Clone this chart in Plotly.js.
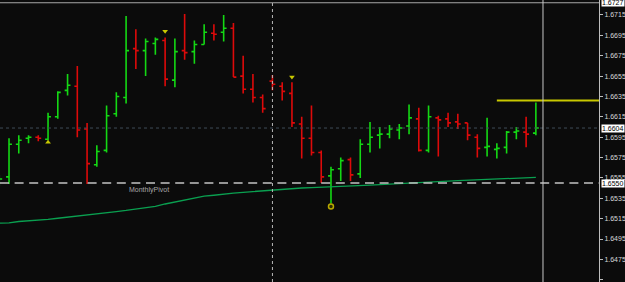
<!DOCTYPE html>
<html><head><meta charset="utf-8">
<script src="https://cdn.plot.ly/plotly-3.0.1.min.js"></script>
<style>html,body{margin:0;padding:0;background:#0b0b0b;overflow:hidden}#chart{width:625px;height:282px;}</style>
</head><body><div id="chart"></div>
<script>
// bar positions (bar number from the left edge of the chart)
const barIndex = [-1,0,1,2,3,4,5,6,7,8,9,10,11,12,13,14,15,16,17,18,19,20,21,22,23,24,25,26,27,28,29,30,31,32,33,34,35,36,37,38,39,40,41,42,43,44,45,46,47,48,49,50,51,52,53,54];
const openP  = [1.6552,1.6556,1.6588,1.6594,1.6595,1.6593,1.6615,1.6641,1.6645,1.6603,1.6568,1.6582,1.6618,1.6634,1.6682,1.6680,1.6687,1.6690,1.6651,1.6680,1.6679,1.6686,1.6697,1.6698,1.6702,1.6655,1.6642,1.6634,1.6650,1.6645,1.6638,1.6608,1.6594,1.6580,1.6557,1.6564,1.6573,1.6559,1.6588,1.6597,1.6598,1.6602,1.6606,1.6613,1.6582,1.6614,1.6613,1.6610,1.6609,1.6595,1.6585,1.6583,1.6585,1.6600,1.6600,1.6599];
const highP  = [1.6558,1.6594,1.6597,1.6597,1.6597,1.6619,1.6640,1.6657,1.6665,1.6609,1.6587,1.6626,1.6639,1.6714,1.6701,1.6692,1.6693,1.6693,1.6692,1.6716,1.6690,1.6706,1.6706,1.6715,1.6707,1.6675,1.6657,1.6637,1.6656,1.6649,1.6649,1.6615,1.6626,1.6582,1.6566,1.6575,1.6575,1.6593,1.6610,1.6605,1.6607,1.6608,1.6627,1.6624,1.6626,1.6616,1.6619,1.6618,1.6609,1.6598,1.6614,1.6589,1.6601,1.6605,1.6615,1.6629];
const lowP   = [1.6547,1.6549,1.6579,1.6589,1.6591,1.6592,1.6613,1.6636,1.6595,1.6549,1.6566,1.6580,1.6615,1.6628,1.6662,1.6655,1.6676,1.6645,1.6644,1.6671,1.6667,1.6686,1.6690,1.6689,1.6654,1.6638,1.6629,1.6619,1.6641,1.6631,1.6605,1.6574,1.6577,1.6550,1.6530,1.6552,1.6552,1.6555,1.6580,1.6584,1.6594,1.6593,1.6598,1.6581,1.6580,1.6576,1.6605,1.6603,1.6592,1.6575,1.6576,1.6574,1.6579,1.6593,1.6585,1.6597];
const closeP = [1.6554,1.6588,1.6592,1.6595,1.6594,1.6615,1.6639,1.6646,1.6602,1.6569,1.6581,1.6616,1.6635,1.6680,1.6680,1.6689,1.6691,1.6652,1.6679,1.6678,1.6686,1.6698,1.6696,1.6702,1.6654,1.6642,1.6634,1.6623,1.6647,1.6640,1.6609,1.6594,1.6580,1.6556,1.6563,1.6572,1.6558,1.6588,1.6595,1.6598,1.6603,1.6604,1.6614,1.6582,1.6615,1.6612,1.6609,1.6608,1.6597,1.6584,1.6586,1.6584,1.6600,1.6601,1.6598,1.6604];
const maValues = [1.65105,1.65109,1.65122,1.65127,1.65132,1.65142,1.65154,1.65166,1.65176,1.65188,1.65200,1.65209,1.65220,1.65231,1.65245,1.65259,1.65271,1.65294,1.65313,1.65338,1.65358,1.65372,1.65380,1.65387,1.65400,1.65409,1.65417,1.65423,1.65433,1.65441,1.65447,1.65451,1.65455,1.65458,1.65461,1.65465,1.65468,1.65473,1.65480,1.65484,1.65488,1.65492,1.65498,1.65503,1.65508,1.65514,1.65519,1.65524,1.65528,1.65530,1.65533,1.65537,1.65540,1.65544,1.65549,1.65555];
// fractal / signal marks
const upFractalBars = [16,29];
const upFractalVals = [1.6699,1.6654];
const downFractalBars = [4];
const downFractalVals = [1.6590];
const circleBars = [33];
const circleVals = [1.6527];
// price axis
const tickVals = [1.6715,1.6695,1.6675,1.6655,1.6635,1.6615,1.6595,1.6575,1.6555,1.6535,1.6515,1.6495,1.6475,1.6455];
const tickText = ['1.6715','1.6695','1.6675','1.6655','1.6635','1.6615','1.6595','1.6575','1.6555','1.6535','1.6515','1.6495','1.6475','1.6455'];
// levels
const topPrice = 1.6727;
const bidPrice = 1.6604;
const pivotPrice = 1.6550;
const pivotLabel = 'MonthlyPivot';
const levelPrice = 1.6631;
const levelStartBar = 50;
const separatorBar = 27;

const yellow = '#c8c800';
const traces = [
  {type:'scatter', mode:'lines', x:barIndex, y:maValues, line:{color:'#0aa050', width:1.3}, hoverinfo:'skip'},
  {type:'ohlc', x:barIndex, open:openP, high:highP, low:lowP, close:closeP, tickwidth:0.3,
   increasing:{line:{color:'#14d814', width:1.6}}, decreasing:{line:{color:'#dd0a0a', width:1.6}}, hoverinfo:'skip'},
  {type:'scatter', mode:'markers', x:upFractalBars, y:upFractalVals, marker:{symbol:'triangle-down', size:5, color:yellow}},
  {type:'scatter', mode:'markers', x:downFractalBars, y:downFractalVals, marker:{symbol:'triangle-up', size:5, color:yellow}},
  {type:'scatter', mode:'markers', x:circleBars, y:circleVals, marker:{symbol:'circle', size:5, color:'#2a2a00', line:{width:1.5, color:'#b8a800'}}}
];

const boxLabel = (p) => ({x:1, xref:'paper', xanchor:'left', xshift:2, y:p, yref:'y', yanchor:'middle',
  text:p.toFixed(4), showarrow:false, bgcolor:'#ffffff', borderpad:0,
  font:{family:'Liberation Sans, Arial, sans-serif', size:7, color:'#000000'}});

const layout = {
  width:625, height:282,
  margin:{l:0, r:26, t:0, b:0, pad:0},
  paper_bgcolor:'#0b0b0b', plot_bgcolor:'#0b0b0b',
  showlegend:false, hovermode:false,
  xaxis:{range:[-0.924, 60.47], visible:false, showgrid:false, zeroline:false, rangeslider:{visible:false}, fixedrange:true},
  yaxis:{side:'right', range:[1.64528, 1.67297], showgrid:false, zeroline:false,
    tickmode:'array', tickvals:tickVals, ticktext:tickText,
    ticks:'outside', ticklen:3, tickcolor:'#bdbdbd', showline:true, linecolor:'#bdbdbd', linewidth:1,
    tickfont:{family:'Liberation Sans, Arial, sans-serif', size:7, color:'#d8d8d8'}, fixedrange:true},
  shapes:[
    {type:'line', xref:'paper', x0:0, x1:1, yref:'y', y0:topPrice, y1:topPrice, line:{color:'#a8a8a8', width:1}},
    {type:'line', xref:'paper', x0:0, x1:1, yref:'y', y0:bidPrice, y1:bidPrice, line:{color:'#3e4c57', width:1, dash:'dot'}},
    {type:'line', xref:'paper', x0:0, x1:1, yref:'y', y0:pivotPrice, y1:pivotPrice, line:{color:'#c4c4c4', width:1.3, dash:'9px,5.6px'}},
    {type:'line', xref:'x', x0:levelStartBar, x1:62, yref:'y', y0:levelPrice, y1:levelPrice, line:{color:yellow, width:2}},
    {type:'line', xref:'x', x0:separatorBar, x1:separatorBar, yref:'paper', y0:0, y1:1, line:{color:'#b8b8b8', width:1, dash:'dot'}},
    {type:'line', xref:'paper', x0:0.9065, x1:0.9065, yref:'paper', y0:0, y1:1, line:{color:'#c8c8c8', width:1}}
  ],
  annotations:[
    boxLabel(topPrice), boxLabel(bidPrice), boxLabel(pivotPrice),
    {x:12.1, xref:'x', xanchor:'left', y:pivotPrice, yref:'y', yanchor:'top', yshift:-1, text:pivotLabel, showarrow:false,
     font:{family:'Liberation Sans, Arial, sans-serif', size:7, color:'#a8a8a8'}}
  ]
};
Plotly.newPlot('chart', traces, layout, {staticPlot:true, displayModeBar:false});
</script>
</body></html>
